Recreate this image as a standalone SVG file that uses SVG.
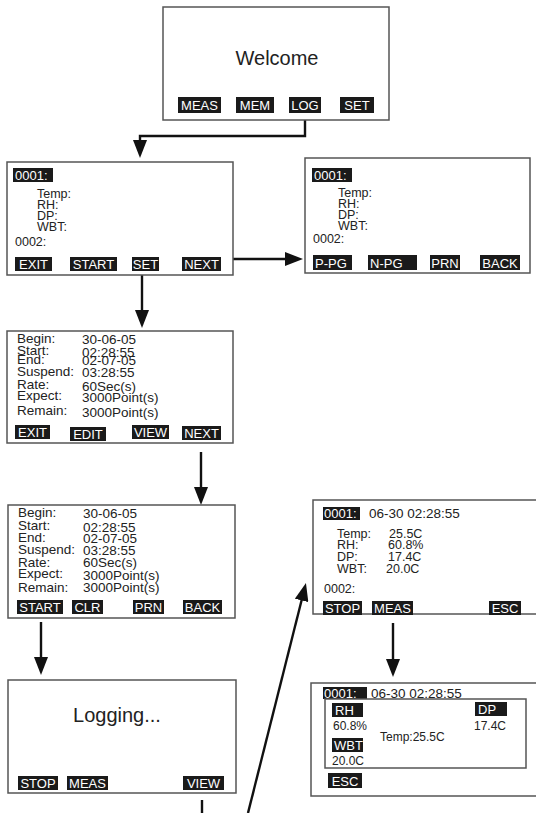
<svg xmlns="http://www.w3.org/2000/svg" width="536" height="813" viewBox="0 0 536 813">
<style>
.scr{fill:#fff;stroke:#555;stroke-width:1.5}
.btn{fill:#1a1a1a}
.bt{font-family:"Liberation Sans",Arial,sans-serif;font-size:13px;fill:#fff}
.t{font-family:"Liberation Sans",Arial,sans-serif;font-size:12.5px;fill:#222}
.ts{font-family:"Liberation Sans",Arial,sans-serif;font-size:13.5px;fill:#222}
.tm{font-family:"Liberation Sans",Arial,sans-serif;font-size:12px;fill:#222}
.big{font-family:"Liberation Sans",Arial,sans-serif;font-size:20px;fill:#222}
.c{fill:none;stroke:#111;stroke-width:2.4}
</style>
<defs>
<marker id="ah" markerUnits="userSpaceOnUse" markerWidth="20" markerHeight="14" refX="3" refY="7" orient="auto">
<path d="M0,0 L18,7 L0,14 z" fill="#111"/>
</marker>
</defs>
<rect width="536" height="813" fill="#fff"/>

<g id="connectors">
<path class="c" d="M305,120 V136 H140 V143" marker-end="url(#ah)"/>
<path class="c" d="M233,259 H288" marker-end="url(#ah)"/>
<path class="c" d="M142,275 V313" marker-end="url(#ah)"/>
<path class="c" d="M201,452 V490" marker-end="url(#ah)"/>
<path class="c" d="M41,622 V660" marker-end="url(#ah)"/>
<path class="c" d="M393,623 V662" marker-end="url(#ah)"/>
<path class="c" d="M202,800 V813"/>
<path class="c" d="M248,813 L302.3,597.5" marker-end="url(#ah)"/>
</g>

<g id="welcome">
<rect class="scr" x="163" y="7" width="226" height="113"/>
<text class="big" x="277" y="65" text-anchor="middle">Welcome</text>
<rect class="btn" x="178" y="97" width="43" height="16"/><text class="bt" x="199.5" y="110" text-anchor="middle">MEAS</text>
<rect class="btn" x="236" y="97" width="38" height="16"/><text class="bt" x="255" y="110" text-anchor="middle">MEM</text>
<rect class="btn" x="289" y="97" width="32" height="16"/><text class="bt" x="305" y="110" text-anchor="middle">LOG</text>
<rect class="btn" x="340" y="97" width="34" height="16"/><text class="bt" x="357" y="110" text-anchor="middle">SET</text>
</g>

<g id="log-list">
<rect class="scr" x="7" y="162" width="226" height="113"/>
<rect class="btn" x="13" y="168" width="40" height="14"/><text class="bt" x="15" y="180">0001:</text>
<text class="t" x="37" y="198">Temp:</text>
<text class="t" x="37" y="209">RH:</text>
<text class="t" x="37" y="220">DP:</text>
<text class="t" x="37" y="231">WBT:</text>
<text class="t" x="15" y="246">0002:</text>
<rect class="btn" x="15" y="257" width="37" height="14"/><text class="bt" x="33.5" y="269" text-anchor="middle">EXIT</text>
<rect class="btn" x="70" y="257" width="47" height="14"/><text class="bt" x="93.5" y="269" text-anchor="middle">START</text>
<rect class="btn" x="132" y="257" width="27" height="14"/><text class="bt" x="145.5" y="269" text-anchor="middle">SET</text>
<rect class="btn" x="182" y="257" width="39" height="14"/><text class="bt" x="201.5" y="269" text-anchor="middle">NEXT</text>
</g>

<g id="log-page">
<rect class="scr" x="305" y="158" width="225" height="115"/>
<rect class="btn" x="312" y="168" width="40" height="14"/><text class="bt" x="314" y="180">0001:</text>
<text class="t" x="338" y="197">Temp:</text>
<text class="t" x="338" y="208">RH:</text>
<text class="t" x="338" y="219">DP:</text>
<text class="t" x="338" y="230">WBT:</text>
<text class="t" x="313" y="243">0002:</text>
<rect class="btn" x="313" y="255" width="39" height="15"/><text class="bt" x="315" y="268">P-PG</text>
<rect class="btn" x="368" y="255" width="49" height="15"/><text class="bt" x="370" y="268">N-PG</text>
<rect class="btn" x="430" y="255" width="30" height="15"/><text class="bt" x="445" y="268" text-anchor="middle">PRN</text>
<rect class="btn" x="480" y="255" width="40" height="15"/><text class="bt" x="500" y="268" text-anchor="middle">BACK</text>
</g>

<g id="settings">
<rect class="scr" x="7" y="331" width="226" height="112"/>
<text class="ts" x="17" y="343">Begin:</text><text class="ts" x="82" y="344">30-06-05</text>
<text class="ts" x="17" y="355">Start:</text><text class="ts" x="82" y="357">02:28:55</text>
<text class="ts" x="17" y="364">End:</text><text class="ts" x="82" y="365">02-07-05</text>
<text class="ts" x="17" y="376">Suspend:</text><text class="ts" x="82" y="377">03:28:55</text>
<text class="ts" x="17" y="389">Rate:</text><text class="ts" x="82" y="391">60Sec(s)</text>
<text class="ts" x="17" y="400">Expect:</text><text class="ts" x="82" y="402">3000Point(s)</text>
<text class="ts" x="17" y="415">Remain:</text><text class="ts" x="82" y="417">3000Point(s)</text>
<rect class="btn" x="15" y="425" width="35" height="14"/><text class="bt" x="32.5" y="437" text-anchor="middle">EXIT</text>
<rect class="btn" x="70" y="427" width="36" height="14"/><text class="bt" x="88" y="439" text-anchor="middle">EDIT</text>
<rect class="btn" x="132" y="425" width="37" height="14"/><text class="bt" x="150.5" y="437" text-anchor="middle">VIEW</text>
<rect class="btn" x="182" y="426" width="39" height="14"/><text class="bt" x="201.5" y="438" text-anchor="middle">NEXT</text>
</g>

<g id="settings-2">
<rect class="scr" x="8" y="505" width="227" height="113"/>
<text class="ts" x="18" y="517">Begin:</text><text class="ts" x="83" y="518">30-06-05</text>
<text class="ts" x="18" y="530">Start:</text><text class="ts" x="83" y="532">02:28:55</text>
<text class="ts" x="18" y="542">End:</text><text class="ts" x="83" y="543">02-07-05</text>
<text class="ts" x="18" y="554">Suspend:</text><text class="ts" x="83" y="555">03:28:55</text>
<text class="ts" x="18" y="567">Rate:</text><text class="ts" x="83" y="567">60Sec(s)</text>
<text class="ts" x="18" y="578">Expect:</text><text class="ts" x="83" y="580">3000Point(s)</text>
<text class="ts" x="18" y="592">Remain:</text><text class="ts" x="83" y="592">3000Point(s)</text>
<rect class="btn" x="17" y="600" width="46" height="14"/><text class="bt" x="40" y="612" text-anchor="middle">START</text>
<rect class="btn" x="72" y="600" width="31" height="14"/><text class="bt" x="87.5" y="612" text-anchor="middle">CLR</text>
<rect class="btn" x="133" y="600" width="31" height="14"/><text class="bt" x="148.5" y="612" text-anchor="middle">PRN</text>
<rect class="btn" x="183" y="600" width="39" height="14"/><text class="bt" x="202.5" y="612" text-anchor="middle">BACK</text>
</g>

<g id="logging">
<rect class="scr" x="8" y="680" width="228" height="113"/>
<text class="big" x="117" y="722" text-anchor="middle" font-size="21">Logging...</text>
<rect class="btn" x="18" y="776" width="40" height="14"/><text class="bt" x="38" y="788" text-anchor="middle">STOP</text>
<rect class="btn" x="67" y="776" width="41" height="14"/><text class="bt" x="87.5" y="788" text-anchor="middle">MEAS</text>
<rect class="btn" x="183" y="776" width="41" height="14"/><text class="bt" x="203.5" y="788" text-anchor="middle">VIEW</text>
</g>

<g id="view">
<rect class="scr" x="313" y="500" width="230" height="114"/>
<rect class="btn" x="323" y="507" width="37" height="13"/><text class="bt" x="324" y="518">0001:</text>
<text class="ts" x="369" y="518">06-30 02:28:55</text>
<text class="t" x="337" y="538">Temp:</text><text class="t" x="389" y="538">25.5C</text>
<text class="t" x="337" y="549">RH:</text><text class="t" x="388" y="549">60.8%</text>
<text class="t" x="337" y="561">DP:</text><text class="t" x="388" y="561">17.4C</text>
<text class="t" x="337" y="573">WBT:</text><text class="t" x="386" y="573">20.0C</text>
<text class="t" x="324" y="593">0002:</text>
<rect class="btn" x="323" y="601" width="39" height="14"/><text class="bt" x="342.5" y="613" text-anchor="middle">STOP</text>
<rect class="btn" x="372" y="601" width="41" height="14"/><text class="bt" x="392.5" y="613" text-anchor="middle">MEAS</text>
<rect class="btn" x="489" y="601" width="32" height="14"/><text class="bt" x="505" y="613" text-anchor="middle">ESC</text>
</g>

<g id="view-detail">
<rect class="scr" x="311" y="683" width="232" height="113"/>
<rect class="btn" x="323" y="687" width="44" height="12"/><text class="bt" x="324" y="698" font-size="14">0001:</text>
<text class="ts" x="371" y="698">06-30 02:28:55</text>
<rect class="scr" x="325" y="699" width="201" height="69"/>
<rect class="btn" x="332" y="703" width="31" height="14"/><text class="bt" x="335" y="715" font-size="12">RH</text>
<rect class="btn" x="475" y="702" width="32" height="14"/><text class="bt" x="478" y="714" font-size="12">DP</text>
<text class="tm" x="333" y="730">60.8%</text>
<text class="tm" x="474" y="730">17.4C</text>
<text class="tm" x="380" y="741">Temp:25.5C</text>
<rect class="btn" x="332" y="738" width="31" height="14"/><text class="bt" x="334" y="750" font-size="12">WBT</text>
<text class="tm" x="332" y="765">20.0C</text>
<rect class="btn" x="328" y="773" width="34" height="15"/><text class="bt" x="345" y="786" font-size="14" text-anchor="middle">ESC</text>
</g>
</svg>
